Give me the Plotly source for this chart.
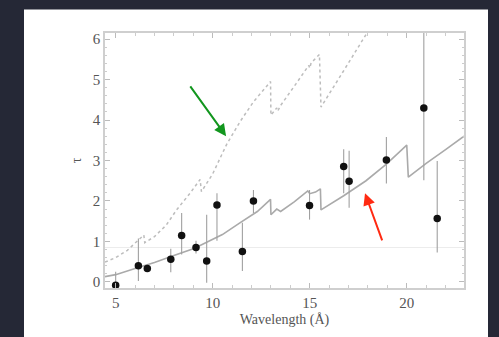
import plotly.graph_objects as go

# Observed data points
obs_x = [5.0, 6.17, 6.63, 7.84, 8.4, 9.14, 9.69, 10.22, 11.53, 12.1, 14.99, 16.75, 17.03, 18.95, 20.88, 21.57]
obs_y = [-0.08, 0.40, 0.33, 0.56, 1.15, 0.85, 0.52, 1.90, 0.75, 2.00, 1.89, 2.85, 2.49, 3.01, 4.30, 1.57]
err_hi = [0.25, 1.07, 0.42, 0.82, 1.70, 1.02, 1.66, 2.19, 1.46, 2.27, 2.27, 3.28, 3.24, 3.58, 6.6, 2.99]
err_lo = [-0.2, 0.02, 0.25, 0.24, 0.68, 0.70, -0.02, 1.02, 0.27, 1.70, 1.54, 2.19, 1.83, 2.43, 2.51, 0.73]

# Solid model curve
model_x = [4.45, 5.0, 6.0, 7.0, 8.0, 9.0, 9.35, 10.5, 11.4, 12.3, 12.98, 13.0, 13.3, 13.5, 14.2,
           14.9, 15.0, 15.3, 15.55, 15.58, 16.75, 17.9, 18.95, 20.0, 20.08, 21.0, 22.0, 22.95]
model_y = [0.13, 0.18, 0.33, 0.48, 0.65, 0.82, 0.90, 1.17, 1.46, 1.74, 2.04, 1.66, 1.80, 1.74, 1.98,
           2.25, 2.18, 2.22, 2.30, 1.78, 2.13, 2.50, 2.91, 3.38, 2.59, 2.93, 3.27, 3.60]

# Dashed model curve
dash_x = [4.45, 5.0, 5.6, 6.0, 6.45, 6.5, 7.0, 7.6, 8.14, 8.83, 9.35, 9.42, 10.0, 10.72, 11.41, 12.1,
          12.98, 13.0, 13.3, 13.35, 13.5, 14.3, 14.95, 15.0, 15.07, 15.5, 15.58, 16.7, 17.95, 18.4]
dash_y = [0.49, 0.60, 0.78, 0.95, 1.16, 0.97, 1.12, 1.40, 1.78, 2.19, 2.53, 2.23, 2.67, 3.40, 3.96, 4.45,
          4.95, 4.12, 4.30, 4.22, 4.36, 4.90, 5.35, 5.28, 5.41, 5.62, 4.32, 5.18, 6.15, 6.50]

ref_level = 0.85

x_ticks = [5, 10, 15, 20]
y_ticks = [0, 1, 2, 3, 4, 5, 6]

fig = go.Figure()

fig.add_trace(go.Scatter(x=[4.45, 22.95], y=[ref_level, ref_level], mode="lines",
                         line=dict(color="#ececec", width=1), hoverinfo="skip"))
fig.add_trace(go.Scatter(x=dash_x, y=dash_y, mode="lines",
                         line=dict(color="#bdbdbd", width=1.5, dash="3px,3px")))
fig.add_trace(go.Scatter(x=model_x, y=model_y, mode="lines",
                         line=dict(color="#aaaaaa", width=1.6)))
fig.add_trace(go.Scatter(
    x=obs_x, y=obs_y, mode="markers",
    marker=dict(color="#111111", size=7.5),
    error_y=dict(type="data", symmetric=False,
                 array=[h - y for h, y in zip(err_hi, obs_y)],
                 arrayminus=[y - l for l, y in zip(err_lo, obs_y)],
                 color="#a0a0a0", thickness=1.1, width=0),
))

font_serif = "Liberation Serif, Times New Roman, serif"

fig.update_layout(
    width=499, height=337,
    margin=dict(l=105, r=35, t=33, b=44),
    paper_bgcolor="#252836",
    plot_bgcolor="white",
    showlegend=False,
    font=dict(family=font_serif, color="#555555", size=14),
    shapes=[dict(type="rect", xref="paper", yref="paper", layer="below",
                 x0=(24 - 105) / 359, x1=(488 - 105) / 359,
                 y0=(293 - 360) / 260, y1=(293 - 9) / 260,
                 fillcolor="white", line=dict(width=0))],
    annotations=[
        dict(x=10.69, y=3.60, ax=8.79, ay=4.87, xref="x", yref="y", axref="x", ayref="y",
             showarrow=True, arrowhead=2, arrowsize=1.2, arrowwidth=2, arrowcolor="#12961e", text=""),
        dict(x=17.85, y=2.19, ax=18.76, ay=0.99, xref="x", yref="y", axref="x", ayref="y",
             showarrow=True, arrowhead=2, arrowsize=1.2, arrowwidth=2, arrowcolor="#ff2a12", text=""),
    ],
)

fig.update_xaxes(
    range=[4.45, 22.95], tickvals=x_ticks, ticktext=[str(v) for v in x_ticks],
    ticks="inside", ticklen=5, tickcolor="#bbbbbb",
    minor=dict(dtick=1, ticks="inside", ticklen=3, tickcolor="#cccccc"),
    showline=True, linecolor="#cfcfcf", linewidth=1.5, mirror="ticks",
    showgrid=False, zeroline=False,
    title=dict(text="Wavelength (Å)", standoff=4, font=dict(size=14)),
    tickfont=dict(size=15),
)
fig.update_yaxes(
    range=[-0.15, 6.15], tickvals=y_ticks, ticktext=[str(v) for v in y_ticks],
    ticks="inside", ticklen=5, tickcolor="#bbbbbb",
    minor=dict(dtick=0.2, ticks="inside", ticklen=2.5, tickcolor="#cccccc"),
    showline=True, linecolor="#cfcfcf", linewidth=1.5, mirror="ticks",
    showgrid=False, zeroline=False,
    title=dict(text="τ", standoff=8, font=dict(size=14)),
    tickfont=dict(size=15),
)

fig.write_html("out.html")
